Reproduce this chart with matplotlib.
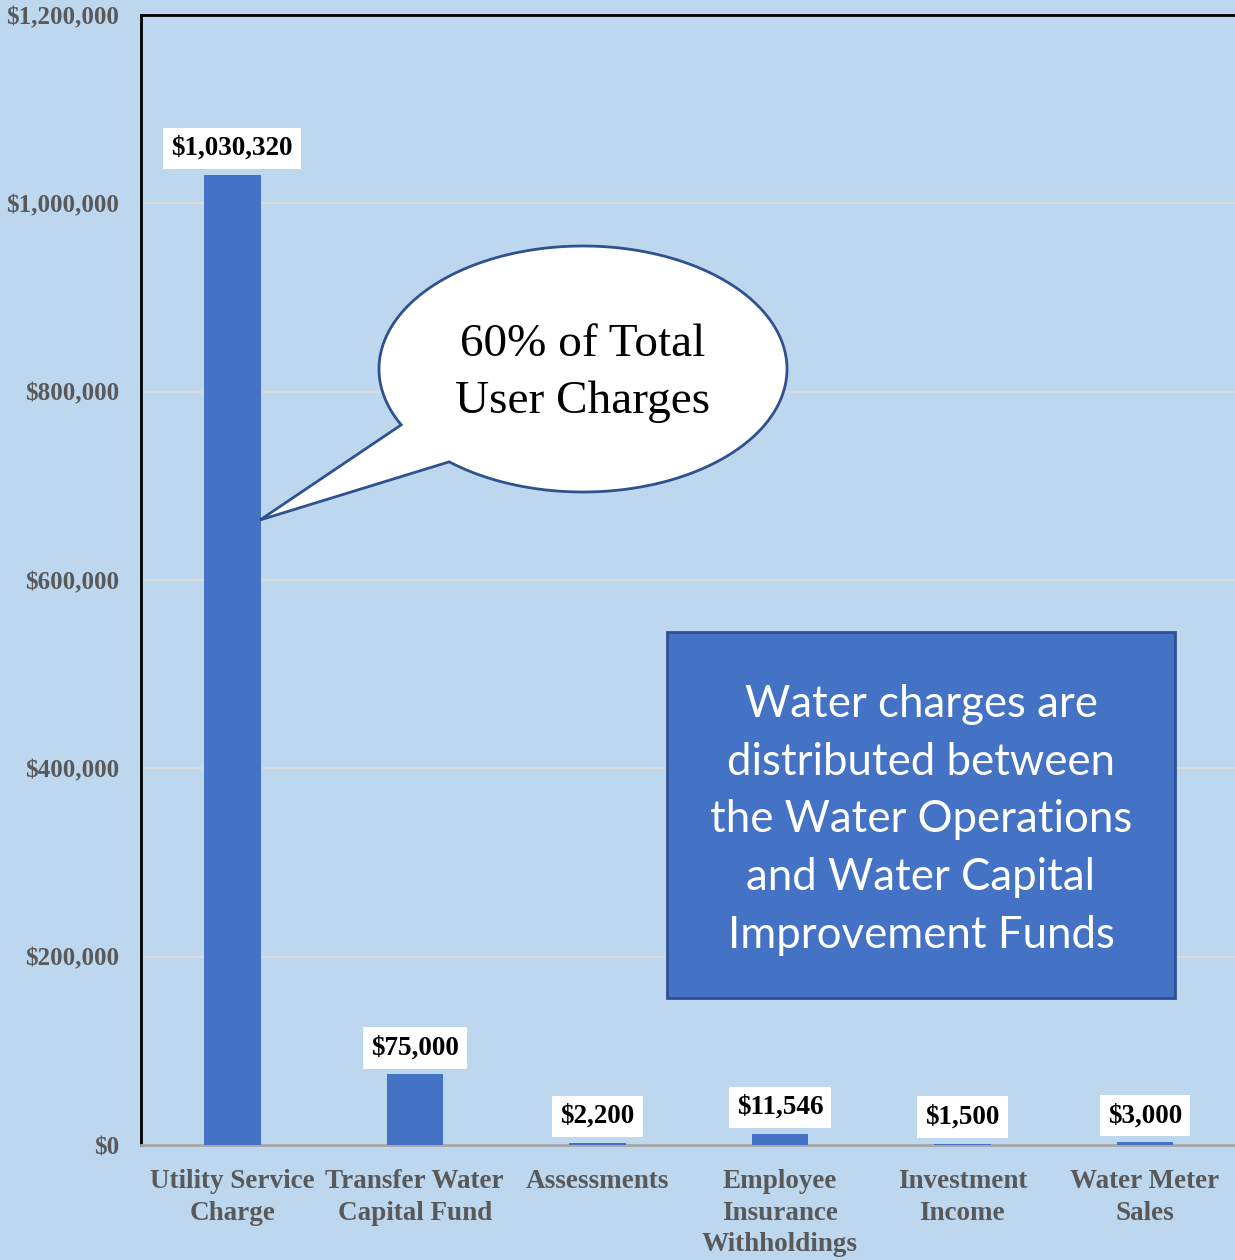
import numpy as np
import matplotlib.pyplot as plt
from matplotlib.patches import Polygon, Rectangle
from matplotlib.ticker import FuncFormatter

categories = ['Utility Service\nCharge', 'Transfer Water\nCapital Fund', 'Assessments',
              'Employee\nInsurance\nWithholdings', 'Investment\nIncome', 'Water Meter\nSales']
values = [1030320, 75000, 2200, 11546, 1500, 3000]
value_labels = ['$1,030,320', '$75,000', '$2,200', '$11,546', '$1,500', '$3,000']

bg = '#BDD7EE'
bar_color = '#4472C4'
W, H = 1235, 1260

fig = plt.figure(figsize=(W / 100, H / 100), dpi=100, facecolor=bg)
ax = fig.add_axes([141 / W, 115 / H, 1 - 141 / W + 0.001, 1130 / H])
ax.set_facecolor(bg)

x = np.arange(len(categories))
ax.bar(x, values, width=0.31, color=bar_color, zorder=3)

ax.set_xlim(-0.5, 5.5)
ax.set_ylim(0, 1200000)
ax.set_yticks(np.arange(0, 1200001, 200000))
ax.yaxis.set_major_formatter(FuncFormatter(lambda v, p: '${:,.0f}'.format(v)))
ax.grid(axis='y', color='#D9D9D9', linewidth=1.5, zorder=0)
ax.set_axisbelow(True)

ax.set_xticks(x)
ax.set_xticklabels(categories, fontfamily='Liberation Serif', fontweight='bold',
                   fontsize=19.5, color='#595959', linespacing=1.33)
for lab in ax.get_yticklabels():
    lab.set_fontfamily('Liberation Serif')
    lab.set_fontweight('bold')
    lab.set_fontsize(18)
    lab.set_color('#595959')
ax.tick_params(axis='y', length=0, pad=16)
ax.tick_params(axis='x', length=0, pad=17.5)

for s in ['left', 'top']:
    ax.spines[s].set_color('black')
    ax.spines[s].set_linewidth(2)
ax.spines['right'].set_visible(False)
ax.spines['bottom'].set_color('#A6A6A6')
ax.spines['bottom'].set_linewidth(2)

for xi, v, lab in zip(x, values, value_labels):
    ax.annotate(lab, (xi, v), xytext=(0, 14), textcoords='offset pixels',
                ha='center', va='bottom', fontfamily='Liberation Serif',
                fontweight='bold', fontsize=19.5, color='black', zorder=5,
                bbox=dict(boxstyle='square,pad=0.3', fc='white', ec='none'))


def fig_pt(px, py):
    return (px / W, 1 - py / H)


# speech bubble
cx, cy, a, b = 583, 369, 204, 123
t = np.radians(np.linspace(131, 153 - 360, 200))
pts = [fig_pt(cx + a * np.cos(tt), cy + b * np.sin(tt)) for tt in t]
pts.append(fig_pt(260, 520))
bubble = Polygon(pts, closed=True, transform=fig.transFigure, fc='white',
                 ec='#2F528F', lw=2, zorder=6)
fig.patches.append(bubble)
fig.text(*fig_pt(583, 373), '60% of Total\nUser Charges', ha='center', va='center',
         fontfamily='Liberation Serif', fontsize=34, linespacing=1.44, zorder=7)

# blue box
x0, y0 = fig_pt(667, 998)
x1, y1 = fig_pt(1175, 632)
box = Rectangle((x0, y0), x1 - x0, y1 - y0, transform=fig.transFigure,
                fc=bar_color, ec='#2F528F', lw=2, zorder=6)
fig.patches.append(box)
fig.text(*fig_pt(921, 820), 'Water charges are\ndistributed between\nthe Water Operations\nand Water Capital\nImprovement Funds',
         ha='center', va='center', fontfamily='Lato', fontsize=31.5, color='white',
         linespacing=1.51, zorder=7)

fig.savefig('out.png', dpi=100, facecolor=bg)
